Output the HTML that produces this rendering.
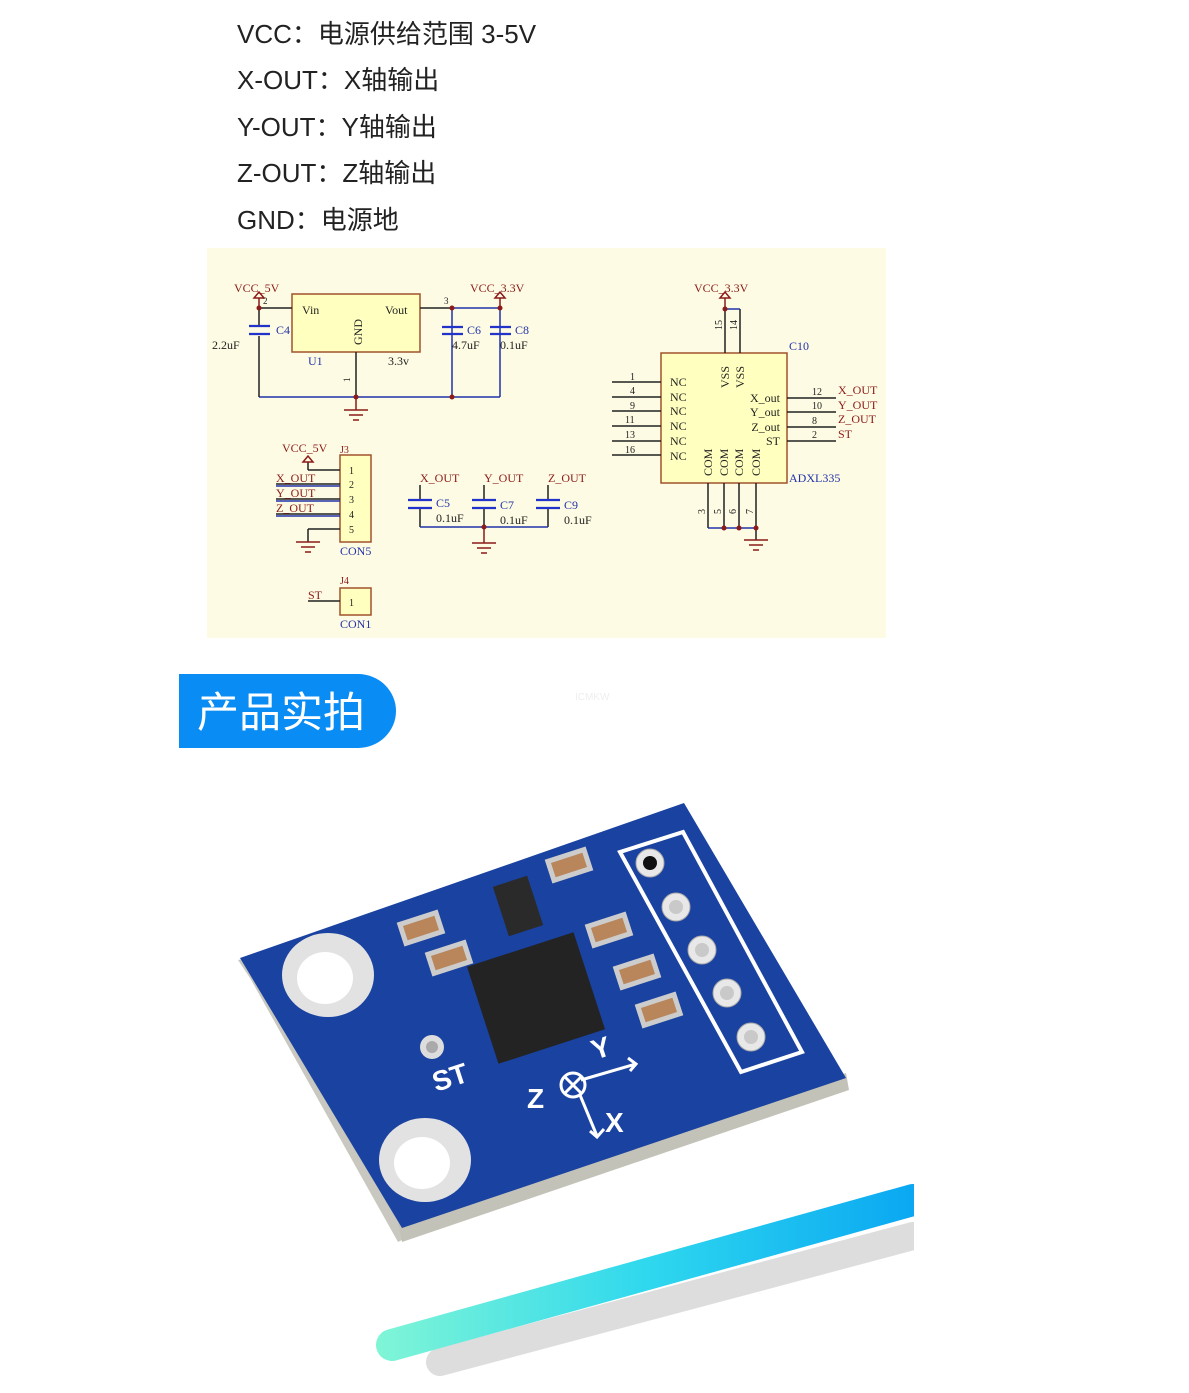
<!DOCTYPE html>
<html><head><meta charset="utf-8"><style>
html,body{margin:0;padding:0;background:#fff;width:1189px;height:1393px;overflow:hidden}
.t{position:absolute;left:237px;font:26px "Liberation Sans","Noto Sans CJK SC",sans-serif;color:#222;white-space:nowrap}
</style></head><body>
<div class="t" style="top:14px">VCC：电源供给范围 3-5V</div>
<div class="t" style="top:60px">X-OUT：X轴输出</div>
<div class="t" style="top:107px">Y-OUT：Y轴输出</div>
<div class="t" style="top:153px">Z-OUT：Z轴输出</div>
<div class="t" style="top:200px">GND：电源地</div>
<svg width="1189" height="1393" style="position:absolute;left:0;top:0" font-family="Liberation Serif,serif">
<defs>
<linearGradient id="g1" x1="380" y1="0" x2="913" y2="0" gradientUnits="userSpaceOnUse"><stop offset="0" stop-color="#7ff5d6"/><stop offset="0.5" stop-color="#2fd8ee"/><stop offset="1" stop-color="#0aa8f2"/></linearGradient>
</defs>
<rect x="207" y="248" width="679" height="390" fill="#fdfbe3"/>
<g stroke-width="1.5" fill="none">
<rect x="292" y="294" width="128" height="58" fill="#ffffbf" stroke="#a0522d"/>
<path d="M259 308H292M420 308H452M356 352V397" stroke="#222"/>
<path d="M452 308H500M259 397H500M452 308V397M500 308V397" stroke="#2233aa"/>
<path d="M259 308V325M259 336V397" stroke="#222"/>
<path d="M249 326H270M249 334H270M442 327H463M442 334H463M490 327H511M490 334H511" stroke="#2233cc" stroke-width="2.2"/>
<path d="M356 397V410M344 410H368M349 415H363M353 420H359" stroke="#8b1a1a"/>
<path d="M259 308V298M254 298L259 292L264 298ZM500 308V298M495 298L500 292L505 298Z" stroke="#8b1a1a"/>
<rect x="661" y="353" width="126" height="130" fill="#ffffbf" stroke="#a0522d"/>
<path d="M725 309V353M740 309V353M612 382H661M612 397H661M612 411H661M612 426H661M612 441H661M612 455H661M787 398H836M787 412H836M787 427H836M787 441H836M708 483V528M724 483V528M739 483V528M756 483V540" stroke="#222"/>
<path d="M725 309H740M708 528H756" stroke="#2233aa"/>
<path d="M725 309V298M720 298L725 292L730 298ZM744 540H768M749 545H763M753 550H759" stroke="#8b1a1a"/>
<rect x="340" y="455" width="31" height="87" fill="#ffffbf" stroke="#a0522d"/>
<path d="M308 470H340M276 484H340M276 499H340M276 514H340M308 529H340M308 529V542M308 470V462" stroke="#222"/>
<path d="M276 486H340M276 501H340M276 516H340" stroke="#2233aa"/>
<path d="M303 462L308 456L313 462ZM296 542H320M301 547H315M305 552H311" stroke="#8b1a1a"/>
<path d="M420 485V500M484 485V500M548 485V500M420 508V527M484 508V527M548 508V527" stroke="#222"/>
<path d="M420 527H548" stroke="#2233aa"/>
<path d="M408 500H432M408 508H432M472 500H496M472 508H496M536 500H560M536 508H560" stroke="#2233cc" stroke-width="2.2"/>
<path d="M484 527V543M472 543H496M477 548H491M481 553H487" stroke="#8b1a1a"/>
<rect x="340" y="588" width="31" height="27" fill="#ffffbf" stroke="#a0522d"/>
<path d="M308 601H340" stroke="#222"/>
</g>
<g fill="#8b1a1a"><circle cx="259" cy="308" r="2.5"/><circle cx="452" cy="308" r="2.5"/><circle cx="500" cy="308" r="2.5"/><circle cx="356" cy="397" r="2.5"/><circle cx="452" cy="397" r="2.5"/><circle cx="725" cy="309" r="2.5"/><circle cx="724" cy="528" r="2.5"/><circle cx="739" cy="528" r="2.5"/><circle cx="756" cy="528" r="2.5"/><circle cx="484" cy="527" r="2.5"/></g>
<g font-size="12" fill="#8b1a1a">
<text x="234" y="292">VCC_5V</text><text x="470" y="292">VCC_3.3V</text><text x="694" y="292">VCC_3.3V</text>
<text x="838" y="394">X_OUT</text><text x="838" y="409">Y_OUT</text><text x="838" y="423">Z_OUT</text><text x="838" y="438">ST</text>
<text x="282" y="452">VCC_5V</text><text x="276" y="482">X_OUT</text><text x="276" y="497">Y_OUT</text><text x="276" y="512">Z_OUT</text>
<text x="420" y="482">X_OUT</text><text x="484" y="482">Y_OUT</text><text x="548" y="482">Z_OUT</text><text x="308" y="599">ST</text>
</g>
<g font-size="12" fill="#222">
<text x="302" y="314">Vin</text><text x="385" y="314">Vout</text><text x="362" y="345" transform="rotate(-90 362 345)">GND</text>
<text x="263" y="304" font-size="9">2</text><text x="444" y="304" font-size="9">3</text><text x="350" y="382" font-size="9" transform="rotate(-90 350 382)">1</text>
<text x="212" y="349">2.2uF</text><text x="452" y="349">4.7uF</text><text x="500" y="349">0.1uF</text>
<text x="276" y="334" fill="#2233aa">C4</text><text x="467" y="334" fill="#2233aa">C6</text><text x="515" y="334" fill="#2233aa">C8</text>
<text x="308" y="365" fill="#2233aa">U1</text><text x="388" y="365">3.3v</text>
<g font-size="10"><text x="630" y="380">1</text><text x="630" y="394">4</text><text x="630" y="409">9</text><text x="625" y="423">11</text><text x="625" y="438">13</text><text x="625" y="453">16</text>
<text x="812" y="395">12</text><text x="812" y="409">10</text><text x="812" y="424">8</text><text x="812" y="438">2</text></g>
<text x="670" y="386">NC</text><text x="670" y="401">NC</text><text x="670" y="415">NC</text><text x="670" y="430">NC</text><text x="670" y="445">NC</text><text x="670" y="460">NC</text>
<text x="780" y="402" text-anchor="end">X_out</text><text x="780" y="416" text-anchor="end">Y_out</text><text x="780" y="431" text-anchor="end">Z_out</text><text x="780" y="445" text-anchor="end">ST</text>
<text x="729" y="388" transform="rotate(-90 729 388)">VSS</text><text x="744" y="388" transform="rotate(-90 744 388)">VSS</text>
<text x="722" y="330" transform="rotate(-90 722 330)" font-size="10">15</text><text x="737" y="330" transform="rotate(-90 737 330)" font-size="10">14</text>
<text x="712" y="476" transform="rotate(-90 712 476)">COM</text><text x="728" y="476" transform="rotate(-90 728 476)">COM</text><text x="743" y="476" transform="rotate(-90 743 476)">COM</text><text x="760" y="476" transform="rotate(-90 760 476)">COM</text>
<g font-size="10"><text x="705" y="514" transform="rotate(-90 705 514)">3</text><text x="721" y="514" transform="rotate(-90 721 514)">5</text><text x="736" y="514" transform="rotate(-90 736 514)">6</text><text x="753" y="514" transform="rotate(-90 753 514)">7</text></g>
<text x="789" y="350" fill="#2233aa">C10</text><text x="789" y="482" fill="#2233aa">ADXL335</text>
<g font-size="10"><text x="349" y="474">1</text><text x="349" y="488">2</text><text x="349" y="503">3</text><text x="349" y="518">4</text><text x="349" y="533">5</text><text x="349" y="606">1</text></g>
<text x="340" y="453" fill="#8b1a1a" font-size="10">J3</text><text x="340" y="555" fill="#2233aa">CON5</text>
<text x="340" y="584" fill="#8b1a1a" font-size="10">J4</text><text x="340" y="628" fill="#2233aa">CON1</text>
<text x="436" y="507" fill="#2233aa">C5</text><text x="500" y="509" fill="#2233aa">C7</text><text x="564" y="509" fill="#2233aa">C9</text>
<text x="436" y="522">0.1uF</text><text x="500" y="524">0.1uF</text><text x="564" y="524">0.1uF</text>
</g>
<path d="M179 674H358A38 37 0 0 1 358 748H179Z" fill="#0a8cf5"/>
<text x="197" y="727" font-family="Liberation Sans,Noto Sans CJK SC,sans-serif" font-size="42" fill="#fff">产品实拍</text>
<text x="575" y="700" font-family="Liberation Sans,sans-serif" font-size="10" fill="#eee">ICMKW</text>
<line x1="440" y1="1362" x2="913" y2="1236" stroke="#ddd" stroke-width="28" stroke-linecap="round"/>
<line x1="392" y1="1345" x2="913" y2="1200" stroke="url(#g1)" stroke-width="32" stroke-linecap="round"/>
<rect x="914" y="1150" width="40" height="120" fill="#fff"/>
<polygon points="238,960 250,978 398,1242 410,1236 405,1225 248,958" fill="#c8c8c0"/>
<polygon points="398,1222 846,1073 849,1090 402,1242" fill="#c2c2b8"/>
<polygon points="240,958 684,803 846,1078 402,1228" fill="#1a42a0"/>
<polygon points="620,852 683,832 802,1052 741,1072" fill="none" stroke="#fff" stroke-width="4"/>
<g fill="#e8e8e8" stroke="#aaa"><circle cx="650" cy="863" r="14"/><circle cx="676" cy="907" r="14"/><circle cx="702" cy="950" r="14"/><circle cx="727" cy="993" r="14"/><circle cx="751" cy="1037" r="14"/></g>
<circle cx="650" cy="863" r="7" fill="#111"/>
<g fill="#c9c9c9"><circle cx="676" cy="907" r="7"/><circle cx="702" cy="950" r="7"/><circle cx="727" cy="993" r="7"/><circle cx="751" cy="1037" r="7"/></g>
<ellipse cx="328" cy="975" rx="46" ry="42" fill="#e2e2e2"/><ellipse cx="325" cy="978" rx="28" ry="26" fill="#fff"/>
<ellipse cx="425" cy="1160" rx="46" ry="42" fill="#e2e2e2"/><ellipse cx="422" cy="1163" rx="28" ry="26" fill="#fff"/>
<circle cx="432" cy="1047" r="12" fill="#ddd"/><circle cx="432" cy="1047" r="6" fill="#aaa"/>
<rect x="480" y="947" width="112" height="102" fill="#232323" transform="rotate(-18 536 998)"/>
<rect x="500" y="880" width="36" height="52" fill="#2a2a2a" transform="rotate(-18 518 906)"/>
<g fill="#b9855a" stroke="#ccc" stroke-width="5"><rect x="402" y="918" width="38" height="20" transform="rotate(-18 421 928)"/><rect x="430" y="948" width="38" height="20" transform="rotate(-18 449 958)"/><rect x="550" y="855" width="38" height="20" transform="rotate(-18 569 865)"/><rect x="590" y="920" width="38" height="20" transform="rotate(-18 609 930)"/><rect x="618" y="962" width="38" height="20" transform="rotate(-18 637 972)"/><rect x="640" y="1000" width="38" height="20" transform="rotate(-18 659 1010)"/></g>
<g fill="none" stroke="#fff" stroke-width="3"><circle cx="573" cy="1085" r="12"/><path d="M565 1077L581 1093M581 1077L565 1093M581 1080L636 1064M628 1058L636 1064L630 1071M580 1095L597 1136M590 1131L597 1137L604 1129"/></g>
<g font-family="Liberation Sans,sans-serif" font-size="28" fill="#fff" font-weight="bold"><text x="436" y="1092" transform="rotate(-18 436 1092)">ST</text><text x="527" y="1108">Z</text><text x="595" y="1060" transform="rotate(-18 595 1060)">Y</text><text x="605" y="1132">X</text></g>
</svg>
</body></html>
